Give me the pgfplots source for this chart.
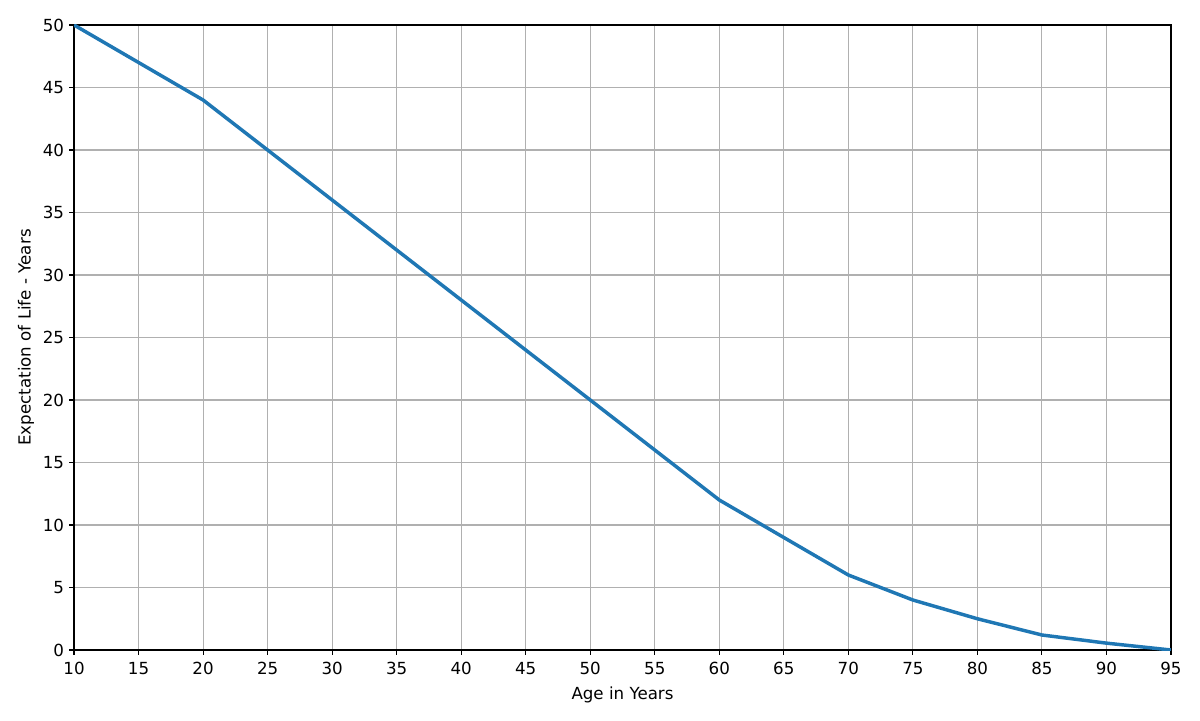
\documentclass[border=0pt]{standalone}
\usepackage{pgfplots}
\pgfplotsset{compat=1.18}
\usepackage{fontspec}
\setmainfont{DejaVu Sans}
\definecolor{mplblue}{HTML}{1F77B4}
\definecolor{gridgray}{HTML}{B0B0B0}
\begin{document}
\fontsize{12bp}{14bp}\selectfont
\begin{tikzpicture}
\begin{axis}[
  scale only axis,
  width=789.8bp, height=450bp,
  xmin=10, xmax=95, ymin=0, ymax=50,
  xtick={10,15,...,95}, ytick={0,5,...,50},
  grid=major,
  major grid style={color=gridgray, line width=0.8bp},
  axis line style={line width=0.8bp, black},
  tick align=outside,
  major tick length=3.5bp,
  tick style={line width=0.8bp, black},
  xtick pos=bottom, ytick pos=left,
  /pgf/number format/assume math mode=true,
  tick label style={font=\fontsize{12bp}{14bp}\selectfont},
  xticklabel style={inner sep=0pt, yshift=-5bp},
  yticklabel style={inner sep=0pt, xshift=-3.5bp},
  xlabel={Age in Years},
  ylabel={Expectation of Life - Years},
  label style={font=\fontsize{12bp}{14bp}\selectfont},
  xlabel style={at={(axis description cs:0.5,0)}, anchor=center, yshift=-32.5bp},
  ylabel style={at={(axis description cs:0,0.5)}, anchor=center, rotate=0, yshift=34.6bp},
]
\addplot[mplblue, line width=2.5bp, line join=round] coordinates {
(10,50) (15,47) (20,44) (25,40) (30,36) (35,32) (40,28) (45,24) (50,20)
(55,16) (60,12) (65,9) (70,6) (75,4) (80,2.5) (85,1.2) (90,0.55) (95,0)
};
\end{axis}
\pgfresetboundingbox
\path ([shift={(-53.3bp,-50.4bp)}]current axis.south west) rectangle ([shift={(20.9bp,18bp)}]current axis.north east);
\end{tikzpicture}
\end{document}
